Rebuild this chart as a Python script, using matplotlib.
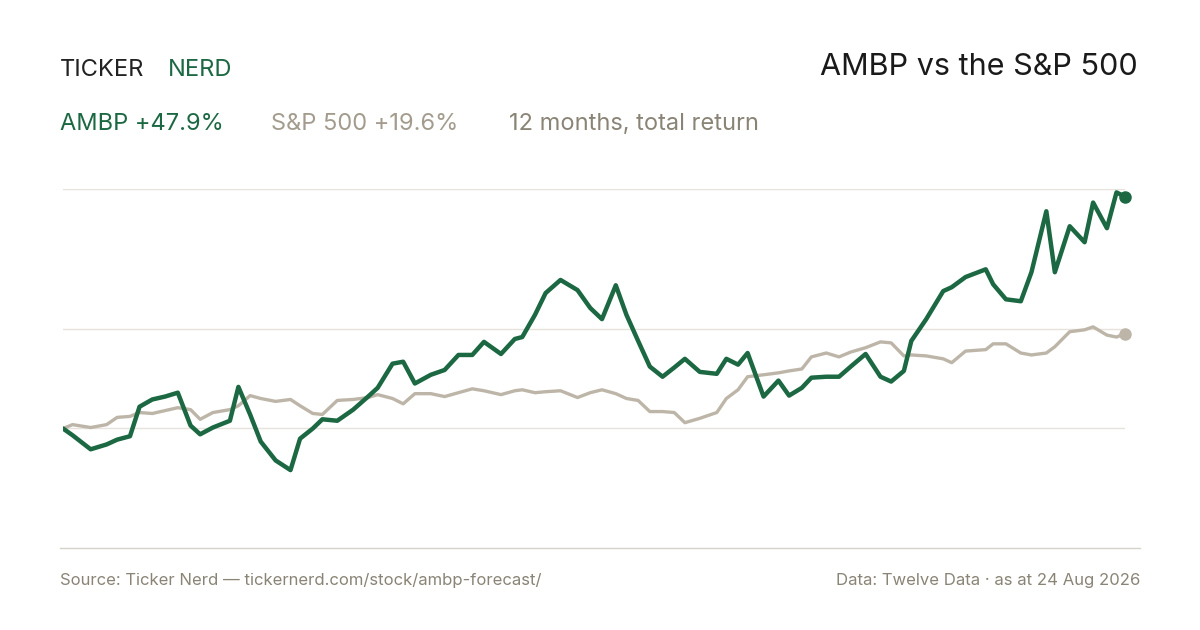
import numpy as np
import matplotlib.pyplot as plt
from matplotlib.lines import Line2D

GREEN = "#1b6842"
GREY = "#bdb5a8"
TEXT = "#8a8476"
plt.rcParams['font.family'] = ['Inter', 'DejaVu Sans']


def main():
    ambp = [0, -1.4, -4.3, -3.3, -2.3, -1.6, 4.5, 6.0, 6.6, 7.4, 0.6, -1.2, 0.2, 1.6, 8.6, 2.9, -2.7, -6.6, -8.6,
            -2.1, 0, 1.9, 1.6, 3.9, 6.6, 8.4, 13.4, 13.8, 9.3, 11.1, 12.1, 15.2, 15.2, 17.9, 15.4, 18.5, 18.9, 23.5,
            28.0, 30.7, 28.6, 24.9, 22.6, 29.6, 23.5, 18.1, 12.8, 10.7, 12.6, 14.4, 11.7, 11.3, 14.4, 13.2, 15.6,
            6.6, 9.9, 6.8, 8.4, 10.5, 10.7, 10.7, 12.8, 15.4, 10.7, 9.7, 11.9, 18.1, 22.6, 28.4, 29.2, 31.3, 32.9,
            29.8, 26.7, 26.3, 32.3, 44.9, 32.3, 41.8, 38.5, 46.7, 41.4, 48.8, 47.9]
    spx = [0, 0.8, 0.2, 0.8, 2.3, 2.5, 3.3, 3.1, 3.7, 4.3, 3.9, 1.9, 3.3, 3.9, 4.7, 6.8, 6.2, 5.6, 6.0, 4.7, 3.1,
           2.9, 5.8, 6.0, 6.4, 7.0, 6.2, 5.1, 7.2, 7.2, 6.6, 7.4, 8.2, 7.8, 7.0, 7.8, 8.0, 7.4, 7.6, 7.8, 6.4, 7.4,
           8.0, 7.2, 6.2, 5.8, 3.5, 3.5, 3.3, 1.2, 2.1, 3.3, 6.2, 8.0, 10.7, 11.1, 11.5, 11.9, 12.3, 14.8, 15.6,
           14.8, 15.8, 16.7, 17.9, 17.7, 15.0, 15.2, 15.0, 14.4, 13.6, 16.0, 16.3, 17.5, 17.5, 15.6, 15.2, 15.6,
           16.9, 20.0, 20.4, 21.0, 19.3, 18.9, 19.6]
    days = [0, 9, 26, 41, 51, 63, 72, 84, 96, 108, 120, 129, 141, 157, 165, 176, 186, 200, 214, 223, 235, 244,
            258, 273, 287, 296, 310, 320, 331, 346, 359, 372, 385, 396, 412, 425, 432, 444, 454, 468, 484, 496,
            507, 520, 530, 541, 552, 564, 575, 585, 599, 615, 624, 635, 644, 659, 673, 683, 695, 704, 718, 730,
            741, 755, 769, 779, 791, 798, 812, 828, 836, 849, 868, 875, 887, 901, 911, 925, 933, 947, 961, 969,
            982, 991, 999]
    n = min(len(ambp), len(spx), len(days))
    x = np.array(days[:n])

    fig = plt.figure(figsize=(12, 6.3), dpi=100)
    ax = fig.add_axes([63 / 1200, 1 - 548 / 630, (1125 - 63) / 1200, 359 / 630])
    ylo, yhi = -24.7, 49.5
    for g in (0, 20.5, 49.5):
        ax.axhline(g, color="#e6e3dd", linewidth=1, zorder=0)
    ax.plot(x, spx[:n], color=GREY, linewidth=2.4, solid_capstyle="round", zorder=2)
    ax.plot(x, ambp[:n], color=GREEN, linewidth=3.2, solid_capstyle="round", zorder=3)
    ax.plot(x[-1], spx[n - 1], "o", color=GREY, markersize=8, zorder=4, clip_on=False)
    ax.plot(x[-1], ambp[n - 1], "o", color=GREEN, markersize=8, zorder=5, clip_on=False)
    ax.set_xlim(x[0], x[-1])
    ax.set_ylim(ylo, yhi)
    ax.axis("off")

    fig.add_artist(Line2D([60 / 1200, 1140 / 1200], [1 - 548 / 630] * 2, color="#d6d2ca", linewidth=1))

    fig.text(60 / 1200, 1 - 70 / 630, "TICKER", fontsize=17, color="#222222", va="center")
    fig.text(168 / 1200, 1 - 70 / 630, "NERD", fontsize=17, color=GREEN, va="center")
    fig.text(1138 / 1200, 1 - 67 / 630, "AMBP vs the S&P 500", fontsize=22, color="#1a1a1a",
             ha="right", va="center")
    fig.text(60 / 1200, 1 - 124 / 630, "AMBP +47.9%", fontsize=17, color=GREEN, va="center")
    fig.text(271 / 1200, 1 - 124 / 630, "S&P 500 +19.6%", fontsize=17, color="#a39c8e", va="center")
    fig.text(509 / 1200, 1 - 124 / 630, "12 months, total return", fontsize=17, color=TEXT, va="center")
    fig.text(60 / 1200, 1 - 580 / 630, "Source: Ticker Nerd — tickernerd.com/stock/ambp-forecast/",
             fontsize=12, color=TEXT, va="center")
    fig.text(1140 / 1200, 1 - 580 / 630, "Data: Twelve Data · as at 24 Aug 2026", fontsize=12, color=TEXT,
             ha="right", va="center")

    fig.savefig("out.png", dpi=100, facecolor="white")


if __name__ == '__main__':
    main()
